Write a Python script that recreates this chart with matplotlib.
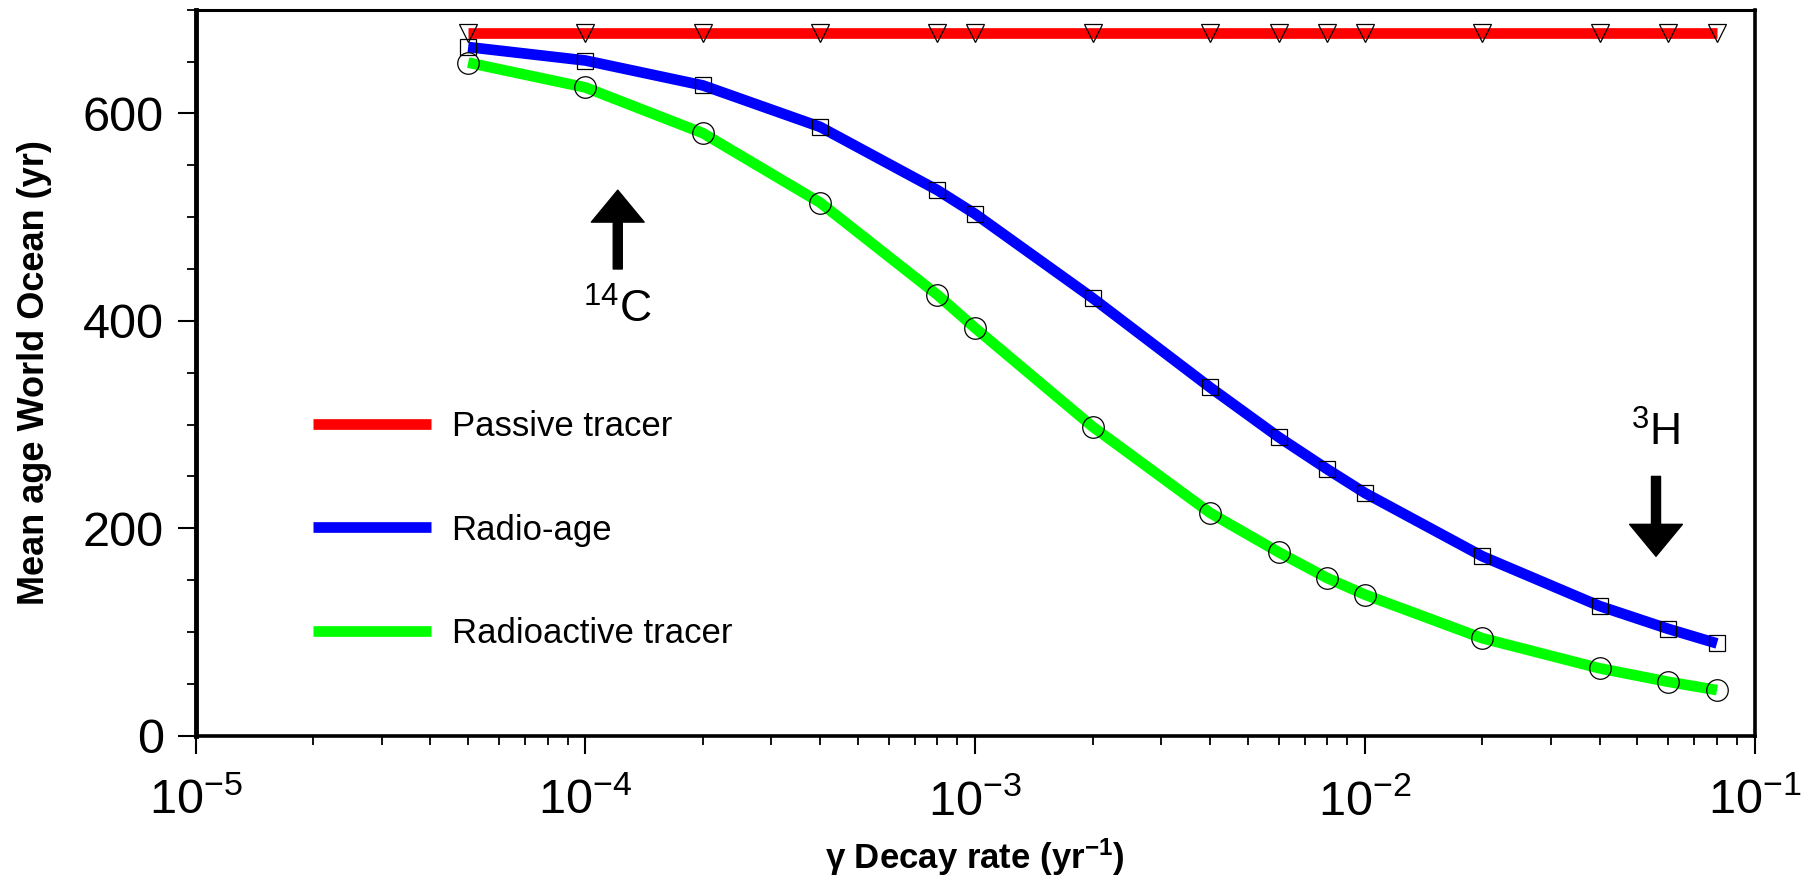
import matplotlib
matplotlib.use("Agg")
import matplotlib.pyplot as plt
from matplotlib.ticker import LogLocator, MultipleLocator

plt.rcParams["font.family"] = ["Liberation Sans", "DejaVu Sans"]
plt.rcParams["mathtext.default"] = "regular"

# decay rate (yr^-1) and mean age of the world ocean (yr)
gamma = [5e-5, 1e-4, 2e-4, 4e-4, 8e-4, 1e-3, 2e-3, 4e-3, 6e-3, 8e-3,
         1e-2, 2e-2, 4e-2, 6e-2, 8e-2]
passive = [678, 678, 678, 678, 678, 678, 678, 678, 678, 678,
           678, 678, 678, 678, 678]
radio_age = [664, 651, 627, 587, 526, 503, 422, 336, 288, 257,
             234, 173, 125, 103, 89]
radioactive = [649, 625, 581, 514, 425, 393, 298, 215, 177, 152,
               136, 94, 65, 52, 44]

labels = ["Passive tracer", "Radio-age", "Radioactive tracer"]

fig = plt.figure(figsize=(18.04, 8.81), dpi=100)
ax = fig.add_axes([0.1085, 0.1649, 0.8642, 0.8241])

series = [(passive, "#ff0000", "v", 13), (radio_age, "#0000ff", "s", 11),
          (radioactive, "#00ff00", "o", 15.5)]
for (vals, col, mk, ms), lab in zip(series, labels):
    ax.plot(gamma, vals, color=col, lw=7.7, solid_capstyle="butt", label=lab,
            zorder=2)
for vals, col, mk, ms in series:
    ax.plot(gamma, vals, ls="none", marker=mk, ms=ms, mfc="none", mec="k",
            mew=0.9, zorder=3)

ax.set_xscale("log")
ax.set_xlim(1e-5, 1e-1)
ax.set_ylim(0, 700)
ax.yaxis.set_major_locator(MultipleLocator(200))
ax.yaxis.set_minor_locator(MultipleLocator(50))
ax.xaxis.set_major_locator(LogLocator(base=10, numticks=10))
ax.xaxis.set_minor_locator(LogLocator(base=10, subs=range(2, 10), numticks=10))
ax.tick_params(which="major", direction="out", length=13, width=1.5,
               labelsize=35, pad=10)
ax.tick_params(axis="x", which="major", pad=18)
ax.tick_params(which="minor", direction="out", length=6.5, width=1.3)
ax.tick_params(top=False, right=False, which="both")

for side, w in (("left", 3.5), ("bottom", 2.6), ("top", 2.2), ("right", 2.6)):
    ax.spines[side].set_linewidth(w)
    ax.spines[side].set_color("k")

ax.set_xlabel("γ Decay rate (yr$^{-1}$)", fontsize=25, fontweight="bold")
ax.set_ylabel("Mean age World Ocean (yr)", fontsize=26, fontweight="bold")
ax.xaxis.set_label_coords(0.5, -0.139)
ax.yaxis.set_label_coords(-0.092, 0.5)

# isotope markers
ax.annotate("", xy=(1.21e-4, 526), xytext=(1.21e-4, 450),
            arrowprops=dict(arrowstyle="simple,head_length=2.3,head_width=3.8,tail_width=0.65",
                            mutation_scale=10, color="k", shrinkA=0, shrinkB=0))
ax.text(1.21e-4, 398, "$^{14}$C", fontsize=32, ha="center", va="baseline")
ax.annotate("", xy=(0.0558, 173), xytext=(0.0558, 250),
            arrowprops=dict(arrowstyle="simple,head_length=2.3,head_width=3.8,tail_width=0.65",
                            mutation_scale=10, color="k", shrinkA=0, shrinkB=0))
ax.text(0.0558, 280, "$^{3}$H", fontsize=32, ha="center", va="baseline")

ax.legend(loc="upper left", bbox_to_anchor=(0.075, 0.448), frameon=False,
          fontsize=25, handlelength=3.4, handletextpad=0.6, labelspacing=2.02,
          borderpad=0, borderaxespad=0)

fig.savefig("out.png", dpi=100)
